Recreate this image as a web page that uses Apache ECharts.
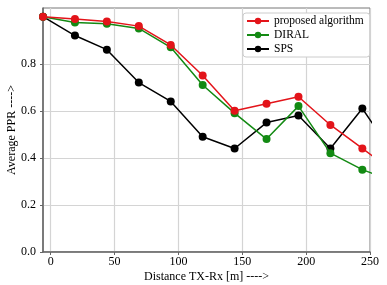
<!DOCTYPE html>
<html><head><meta charset="utf-8">
<script src="https://cdn.jsdelivr.net/npm/echarts@6/dist/echarts.min.js"></script>
<style>html,body{margin:0;padding:0;background:#fff}#c{width:387px;height:285px}</style>
</head><body><div id="c"></div>
<script>
const distances = [-6, 19, 44, 69, 94, 119, 144, 169, 194, 219, 244, 269];
const proposed = [1.0, 0.99, 0.98, 0.96, 0.88, 0.75, 0.60, 0.63, 0.66, 0.54, 0.44, 0.34];
const diral    = [1.0, 0.975, 0.97, 0.95, 0.87, 0.71, 0.59, 0.48, 0.62, 0.42, 0.35, 0.30];
const sps      = [1.0, 0.92, 0.86, 0.72, 0.64, 0.49, 0.44, 0.55, 0.58, 0.44, 0.61, 0.41];
const xTicks = [0, 50, 100, 150, 200, 250];
const yTicks = [0, 0.2, 0.4, 0.6, 0.8];
const seriesNames = ['proposed algorithm', 'DIRAL', 'SPS'];
const colors = ['#e3141a', '#138a13', '#000000'];

const font = 'Liberation Serif';
const pair = arr => distances.map((d, i) => [d, arr[i]]);
const chart = echarts.init(document.getElementById('c'), null, {renderer: 'canvas'});
chart.setOption({
  animation: false,
  grid: {left: 43, right: 17, top: 8, bottom: 33, show: true, borderColor: '#777', borderWidth: 1,
    containLabel: false, outerBoundsMode: 'none'},
  legend: {
    left: 243, top: 13, orient: 'vertical', itemGap: 2, itemWidth: 22, itemHeight: 8,
    padding: [2, 6, 2, 3], borderColor: '#cccccc', borderWidth: 1, borderRadius: 3,
    backgroundColor: '#fff',
    textStyle: {fontFamily: font, fontSize: 11.5, color: '#000'},
    data: seriesNames
  },
  xAxis: {
    type: 'value', min: -6, max: 250,
    name: 'Distance TX-Rx [m] ---->', nameLocation: 'middle', nameGap: 19, nameMoveOverlap: false,
    nameTextStyle: {fontFamily: font, fontSize: 12, color: '#000'},
    axisLine: {show: true, onZero: false, lineStyle: {color: '#666', width: 1.5}},
    axisTick: {show: true, length: 3, customValues: xTicks, lineStyle: {color: '#666'}},
    axisLabel: {customValues: xTicks, fontFamily: font, fontSize: 12, color: '#000', margin: 4},
    splitLine: {show: true, lineStyle: {color: '#d4d4d4', width: 1.2}}
  },
  yAxis: {
    type: 'value', min: 0, max: 1.037, interval: 0.2,
    name: 'Average PPR ---->', nameLocation: 'middle', nameGap: 25, nameMoveOverlap: false,
    nameTextStyle: {fontFamily: font, fontSize: 12, color: '#000'},
    axisLine: {show: true, onZero: false, lineStyle: {color: '#666', width: 1.5}},
    axisTick: {show: true, length: 3, customValues: yTicks, lineStyle: {color: '#666'}},
    axisLabel: {customValues: yTicks, fontFamily: font, fontSize: 12, color: '#000', margin: 7,
      formatter: v => v.toFixed(1)},
    splitLine: {show: true, lineStyle: {color: ['#d4d4d4', '#d4d4d4', '#d4d4d4', '#d4d4d4', '#d4d4d4', 'rgba(0,0,0,0)', 'rgba(0,0,0,0)'], width: 1.2}}
  },
  series: [proposed, diral, sps].map((arr, i) => ({
    name: seriesNames[i], type: 'line', data: pair(arr),
    symbol: 'circle', symbolSize: 8, showAllSymbol: true,
    itemStyle: {color: colors[i]}, lineStyle: {color: colors[i], width: 1.5},
    z: 3 - i
  }))
});
</script></body></html>
